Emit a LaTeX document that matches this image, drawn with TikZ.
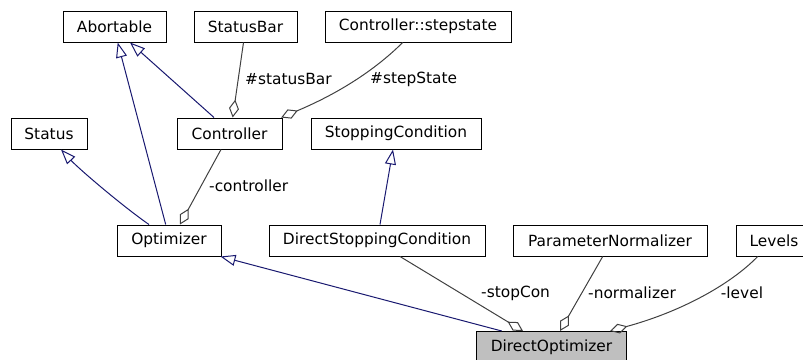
\documentclass[tikz,border=0pt]{standalone}
\usepackage{fontspec}
\newfontfamily\dejavu{DejaVu Sans}
\usetikzlibrary{arrows.meta}
\definecolor{navy}{HTML}{191970}
\definecolor{aggr}{HTML}{404040}
\definecolor{focus}{HTML}{BFBFBF}
\newcommand{\lbl}{\fontsize{15.4}{18}\selectfont\dejavu}
\tikzset{
  cls/.style={draw=black, line width=1pt, fill=white, minimum height=31pt, inner sep=0pt, font=\lbl},
  inherit/.style={draw=navy, line width=1pt, -{Triangle[open,length=15pt,width=11pt]}},
  aggregate/.style={draw=aggr, line width=1pt, -{Diamond[open,length=18pt,width=10pt]}},
  role/.style={anchor=west, inner sep=0pt, font=\lbl}
}
\begin{document}
\begin{tikzpicture}[x=1pt,y=-1pt]
  \useasboundingbox (0,0) rectangle (803,359);
  \node[cls, minimum width=103pt] (abortable)  at (114.5, 26.5) {Abortable};
  \node[cls, minimum width=103pt] (statusbar)  at (245.5, 26.5) {StatusBar};
  \node[cls, minimum width=186pt] (stepstate)  at (418.0, 26.5) {Controller::stepstate};
  \node[cls, minimum width=76pt]  (status)     at ( 49.0,133.5) {Status};
  \node[cls, minimum width=105pt] (controller) at (229.5,133.5) {Controller};
  \node[cls, minimum width=170pt] (stopcond)   at (396.0,133.5) {StoppingCondition};
  \node[cls, minimum width=104pt] (optimizer)  at (169.0,240.5) {Optimizer};
  \node[cls, minimum width=216pt] (dstopcond)  at (377.0,240.5) {DirectStoppingCondition};
  \node[cls, minimum width=194pt] (normalizer) at (610.0,240.5) {ParameterNormalizer};
  \node[cls, minimum width=76pt]  (levels)     at (774.0,240.5) {Levels};
  \node[cls, minimum width=150pt, fill=focus] (dopt) at (551.5,347.0) {DirectOptimizer};
  \draw[inherit] ([xshift=-3.3pt]optimizer.north) -- ([xshift=3.2pt]abortable.south);
  \draw[inherit] ([xshift=-15.5pt]controller.north) -- ([xshift=15.5pt]abortable.south);
  \draw[inherit] ([xshift=-20pt]optimizer.north) .. controls (125,208) and (80,170) .. ([xshift=12pt]status.south);
  \draw[inherit] ([xshift=3pt]dstopcond.north) -- ([xshift=-3pt]stopcond.south);
  \draw[inherit] ([xshift=-49.8pt]dopt.north) -- ([xshift=-1pt]optimizer.south east);
  \draw[aggregate] ([xshift=-2pt]statusbar.south) -- ([xshift=3.2pt]controller.north);
  \draw[aggregate] ([xshift=-15.3pt]stepstate.south) .. controls (370,75) and (330,97) .. ([xshift=-1.3pt]controller.north east);
  \draw[aggregate] ([xshift=-8.5pt]controller.south) -- ([xshift=11pt]optimizer.north);
  \draw[aggregate] ([xshift=23pt]dstopcond.south) -- ([xshift=-28.5pt]dopt.north);
  \draw[aggregate] ([xshift=-7.3pt]normalizer.south) -- ([xshift=8.5pt]dopt.north);
  \draw[aggregate] ([xshift=-16.3pt]levels.south) .. controls (730,285) and (680,312) .. ([xshift=58.5pt]dopt.north);
  \node[role] (lstatusbar)  at (245.0, 79) {\#statusBar};
  \node[role] (lstepstate)  at (370.0, 79) {\#stepState};
  \node[role] (lcontroller) at (209.0,186) {-controller};
  \node[role] (lstopcon)    at (481.0,293) {-stopCon};
  \node[role] (lnormalizer) at (588.0,293) {-normalizer};
  \node[role] (llevel)      at (720.7,293) {-level};
\end{tikzpicture}
\end{document}
